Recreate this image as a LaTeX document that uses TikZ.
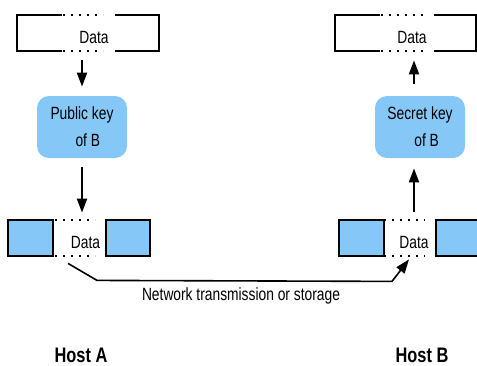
\documentclass[tikz,border=0pt]{standalone}
\usepackage{fontspec}
\setmainfont{Liberation Sans}[FakeStretch=0.78]
\usetikzlibrary{arrows.meta}

\begin{document}
\begin{tikzpicture}[x=0.5pt, y=-0.5pt,
    lbl/.style={font=\fontsize{8.85}{13.5}\selectfont, inner sep=0pt},
    host/.style={font=\fontsize{10.5}{12}\selectfont\bfseries, inner sep=0pt},
    frame/.style={minimum width=71pt, minimum height=18pt, inner sep=0pt},
    keybox/.style={fill=keyblue, rounded corners=6pt, minimum width=45pt,
      minimum height=31pt, inner sep=0pt, align=left,
      font=\fontsize{8.85}{13.5}\selectfont},
    edge/.style={line width=0.85pt},
    dots/.style={line width=0.9pt, dash pattern=on 0.9pt off 3.1pt},
    arr/.style={line width=1pt, -{Triangle[length=7pt, width=5pt]}},
  ]
  \colorlet{keyblue}{rgb,255:red,133;green,200;blue,248}

  \useasboundingbox (0,0) rectangle (477,365);
  \clip (0,0) rectangle (477,365);

  %--- Host A: plain data ---
  \node[frame] (dA1) at (88,33) {};
  \draw[edge] (62,15) -- (17,15) -- (17,51) -- (62,51);
  \draw[edge] (115,15) -- (159,15) -- (159,51) -- (115,51);
  \draw[dots] (63,15) -- (103,15) (63,51) -- (103,51);
  \node[lbl] (tA1) at (94,37) {Data};

  %--- Host A: key ---
  \node[keybox] (kA) at (82,127) {Public key\\\hspace*{12.5pt}of B};

  %--- Host A: encrypted data ---
  \node[frame] (dA2) at (79,238) {};
  \draw[edge, fill=keyblue] (8,220) rectangle (53,256);
  \draw[edge, fill=keyblue] (106,220) rectangle (150,256);
  \draw[dots] (55,220) -- (95,220) (55,256) -- (95,256);
  \node[lbl] (tA2) at (85.5,242) {Data};

  \draw[arr, shorten <=4.5pt, shorten >=4.5pt] (kA.north |- dA1.south) -- (kA.north);
  \draw[arr, shorten <=4.5pt, shorten >=3.5pt] (kA.south) -- (kA.south |- dA2.north);

  %--- Host B: plain data ---
  \node[frame] (dB1) at (405.5,33) {};
  \draw[edge] (380,15) -- (335,15) -- (335,51) -- (380,51);
  \draw[edge] (434,15) -- (476,15) -- (476,51) -- (434,51);
  \draw[dots] (381,15) -- (423,15) (381,51) -- (423,51);
  \node[lbl] (tB1) at (412,37) {Data};

  %--- Host B: key ---
  \node[keybox] (kB) at (420,127) {Secret key\\\hspace*{13.5pt}of B};

  %--- Host B: encrypted data ---
  \node[frame] (dB2) at (410,238) {};
  \draw[edge, fill=keyblue] (339,220) rectangle (384,256);
  \draw[edge, fill=keyblue] (436,220) rectangle (500,256);
  \draw[dots] (384,220) -- (425,220) (384,256) -- (425,256);
  \node[lbl] (tB2) at (414,242) {Data};

  \draw[arr, shorten <=4pt, shorten >=5pt] (tB2 |- dB2.north) -- (tB2 |- kB.south);
  \draw[arr, shorten <=6pt, shorten >=4.5pt] (tB2 |- kB.north) -- (tB2 |- dB1.south);

  %--- transmission ---
  \draw[arr, line width=0.8pt] ([shift={(-11,7)}]dA2.south) -- ++(29,17)
    -- ++(295,1) -- ([shift={(-1,3)}]dB2.south);
  \node[lbl] (net) at (241,296) {Network transmission or storage};

  %--- hosts ---
  \node[host] (hA) at (81,355) {Host A};
  \node[host] (hB) at (422,355) {Host B};

\end{tikzpicture}
\end{document}
